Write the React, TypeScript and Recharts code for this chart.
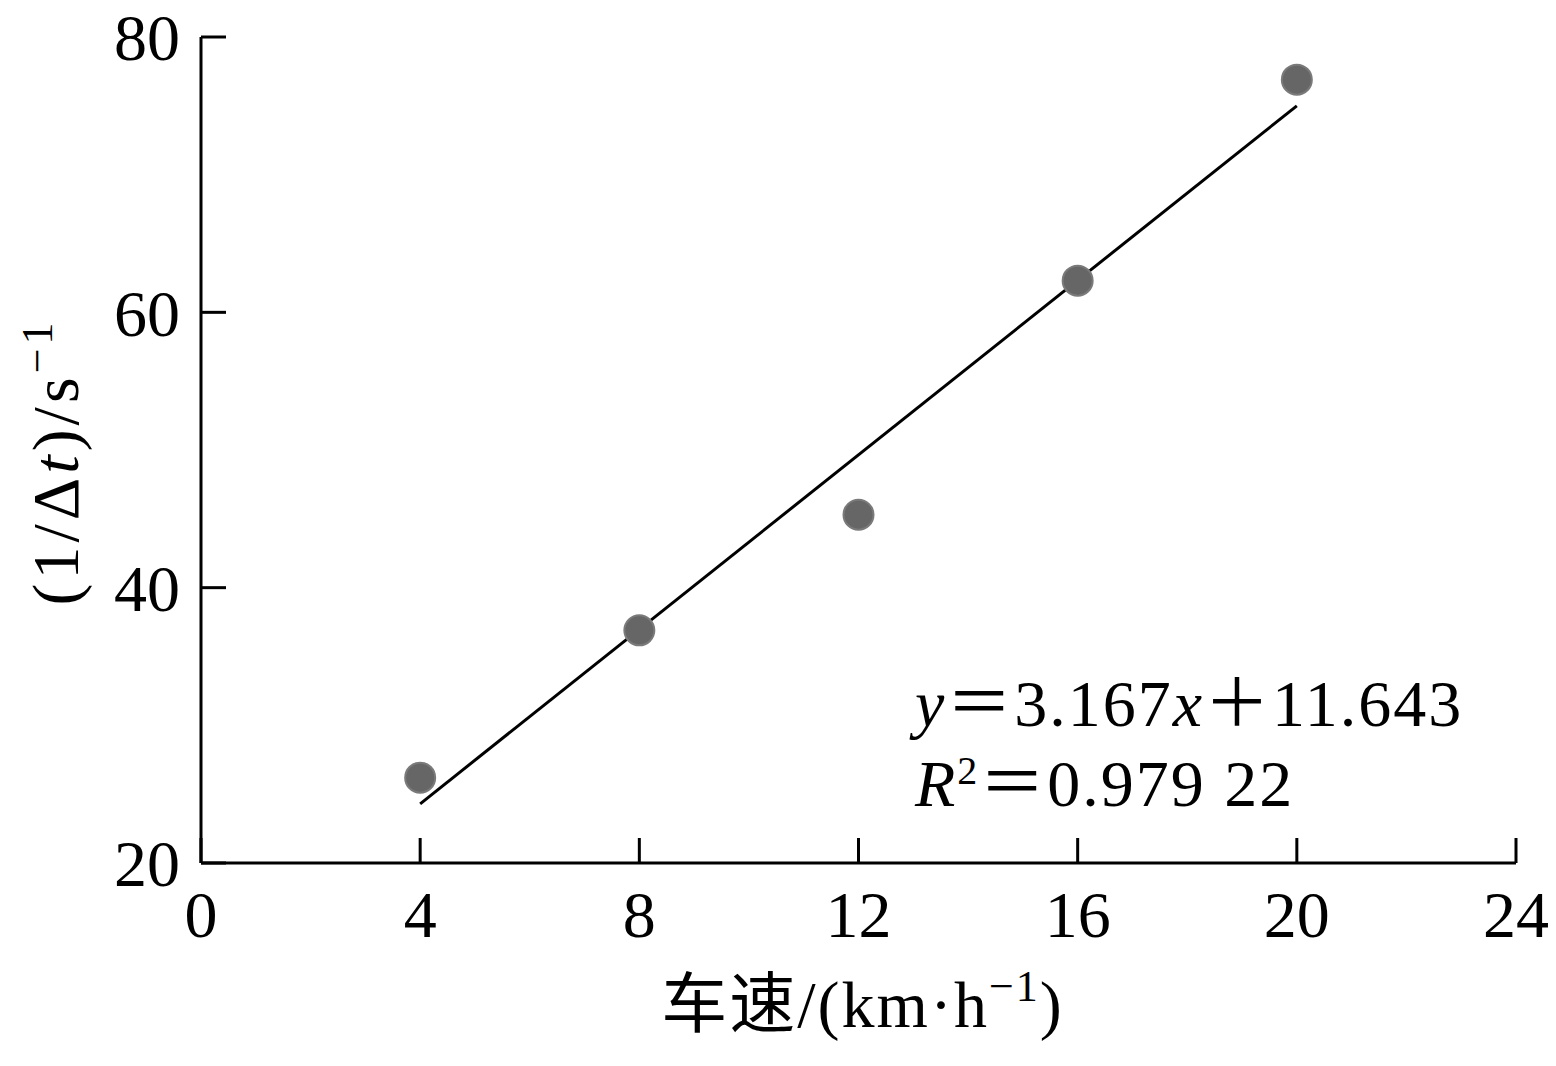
import { ScatterChart, Scatter, XAxis, YAxis, Label } from "recharts";

// measured points: speed (km/h) vs 1/Δt (s^-1)
const speeds = [4, 8, 12, 16, 20];
const rates = [26.2, 36.9, 45.3, 62.3, 76.9];

// ends of the fitted line y = 3.167x + 11.643
const fitX = [4, 20];
const fitY = [24.3, 75.0];

const xTicks = [0, 4, 8, 12, 16, 20, 24];
const yTicks = [20, 40, 60, 80];

const points = speeds.map((x, i) => ({ x, y: rates[i] }));
const fitLine = fitX.map((x, i) => ({ x, y: fitY[i] }));

const FONT = "'Liberation Serif', 'Noto Sans CJK SC', serif";
const FS = 66;

function Dot(props: any) {
    return (
        <circle
            cx={props.cx}
            cy={props.cy}
            r={15}
            fill="#666666"
            stroke="#7a7a7a"
            strokeWidth={2}
        />
    );
}

function App() {
    return (
        <div style={{ position: "absolute", left: 0, top: 0, width: 1556, height: 1066, background: "#fff" }}>
            <ScatterChart
                width={1556}
                height={1066}
                margin={{ top: 37, right: 40, left: 101, bottom: 103 }}
            >
                <XAxis
                    type="number"
                    dataKey="x"
                    domain={[0, 24]}
                    ticks={xTicks}
                    interval={0}
                    height={100}
                    allowDataOverflow
                    stroke="#000"
                    axisLine={{ stroke: "#000", strokeWidth: 3 }}
                    tickLine={{ stroke: "#000", strokeWidth: 3 }}
                    tickSize={-25}
                    tickMargin={52}
                    tick={{ fill: "#000", fontSize: FS, fontFamily: FONT }}
                >
                    <Label
                        content={({ viewBox }: any) => (
                            <text
                                x={viewBox.x + viewBox.width / 2 + 4}
                                y={viewBox.y + 164}
                                textAnchor="middle"
                                fontSize={FS}
                                fontFamily={FONT}
                                letterSpacing={2}
                                fill="#000"
                            >
                                车速/(km·h
                                <tspan dy={-26} fontSize={44}>−1</tspan>
                                <tspan dy={26}>)</tspan>
                            </text>
                        )}
                    />
                </XAxis>
                <YAxis
                    type="number"
                    dataKey="y"
                    domain={[20, 80]}
                    ticks={yTicks}
                    interval={0}
                    width={100}
                    allowDataOverflow
                    stroke="#000"
                    axisLine={{ stroke: "#000", strokeWidth: 3 }}
                    tickLine={{ stroke: "#000", strokeWidth: 3 }}
                    tickSize={-25}
                    tickMargin={46}
                    tick={{ fill: "#000", fontSize: FS, fontFamily: FONT }}
                >
                    <Label
                        content={() => (
                            <text
                                x={0}
                                y={0}
                                transform="translate(78 462) rotate(-90)"
                                textAnchor="middle"
                                fontSize={FS}
                                fontFamily={FONT}
                                letterSpacing={4}
                                fill="#000"
                            >
                                (1/Δ<tspan fontStyle="italic">t</tspan>)/s
                                <tspan dy={-26} fontSize={44}>−1</tspan>
                            </text>
                        )}
                    />
                </YAxis>
                <Scatter
                    data={fitLine}
                    line={{ stroke: "#000", strokeWidth: 3 }}
                    shape={() => null}
                    isAnimationActive={false}
                />
                <Scatter data={points} shape={<Dot />} isAnimationActive={false} />
            </ScatterChart>
            <div
                style={{
                    position: "absolute",
                    left: 915,
                    top: 664,
                    fontFamily: FONT,
                    fontSize: FS,
                    lineHeight: "80px",
                    letterSpacing: 2,
                    color: "#000",
                    whiteSpace: "nowrap",
                }}
            >
                <div>
                    <i>y</i>＝3.167<i>x</i>＋11.643
                </div>
                <div>
                    <i>R</i>
                    <sup style={{ fontSize: 40, verticalAlign: "22px", lineHeight: 0 }}>2</sup>＝0.979 22
                </div>
            </div>
        </div>
    );
}

export default App;
